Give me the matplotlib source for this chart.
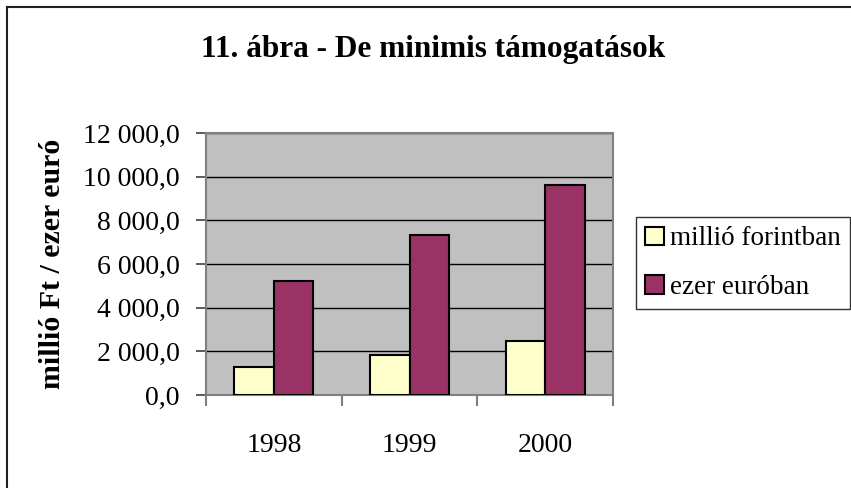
import matplotlib
matplotlib.use("Agg")
import matplotlib.pyplot as plt
from matplotlib.lines import Line2D
from matplotlib.ticker import FuncFormatter
import numpy as np

years = ["1998", "1999", "2000"]
million_huf = [1283, 1817, 2473]
thousand_eur = [5222, 7329, 9620]
series_names = ["millió forintban", "ezer euróban"]

plt.rcParams["font.family"] = ["Liberation Serif", "DejaVu Serif"]

fig = plt.figure(figsize=(8.51, 4.88), dpi=100)
ax = fig.add_axes([206 / 851, 1 - 395 / 488, 407 / 851, 262 / 488])
ax.set_facecolor("#C0C0C0")

x = np.arange(len(years))
width = 0.29
ax.bar(x - width / 2, million_huf, width, color="#FFFFCC", edgecolor="black",
       linewidth=1.5, label=series_names[0], zorder=3)
ax.bar(x + width / 2, thousand_eur, width, color="#993366", edgecolor="black",
       linewidth=1.5, label=series_names[1], zorder=3)

ax.set_xlim(-0.5, len(years) - 0.5)
ax.set_ylim(0, 12000)
ax.set_yticks(np.arange(0, 12001, 2000))
ax.yaxis.set_major_formatter(FuncFormatter(
    lambda v, p: f"{v:,.1f}".replace(",", " ").replace(".", ",")))
ax.yaxis.grid(True, color="black", linewidth=1.0, zorder=1)

# category boundaries get tick marks, the year labels sit between them
ax.set_xticks(np.arange(-0.5, len(years), 1.0))
ax.set_xticklabels([])
ax.set_xticks(x, minor=True)
ax.set_xticklabels(years, minor=True, fontsize=20)
ax.tick_params(axis="x", which="minor", length=0, pad=27)
ax.tick_params(axis="x", which="major", length=8, width=1.5, color="#808080")
ax.tick_params(axis="y", length=7, width=1.2, color="#404040", labelsize=20, pad=12)

for side in ["left", "right", "top", "bottom"]:
    ax.spines[side].set_color("#808080")
    ax.spines[side].set_linewidth(1.5)

ax.set_ylabel("millió Ft / ezer euró", fontsize=21.5, fontweight="bold")
ax.yaxis.set_label_coords((66 - 206) / 407, 0.5)

fig.text(433 / 851, 1 - 50 / 488, "11. ábra - De minimis támogatások",
         fontsize=22.5, fontweight="bold", ha="center", va="center")

leg = fig.legend(loc="upper left", bbox_to_anchor=(636 / 851, 1 - 217 / 488),
                 fontsize=19.5, frameon=True, fancybox=False, edgecolor="black",
                 handlelength=0.7, handleheight=0.7, handletextpad=0.2,
                 borderpad=0.35, labelspacing=0.85, borderaxespad=0)
leg.get_frame().set_linewidth(1.0)

fig.add_artist(Line2D([7 / 851, 1.0], [1 - 7 / 488] * 2, color="#202020", linewidth=1.5))
fig.add_artist(Line2D([7 / 851] * 2, [0.0, 1 - 7 / 488], color="#202020", linewidth=1.5))

fig.savefig("out.png", dpi=100)
plt.close(fig)
